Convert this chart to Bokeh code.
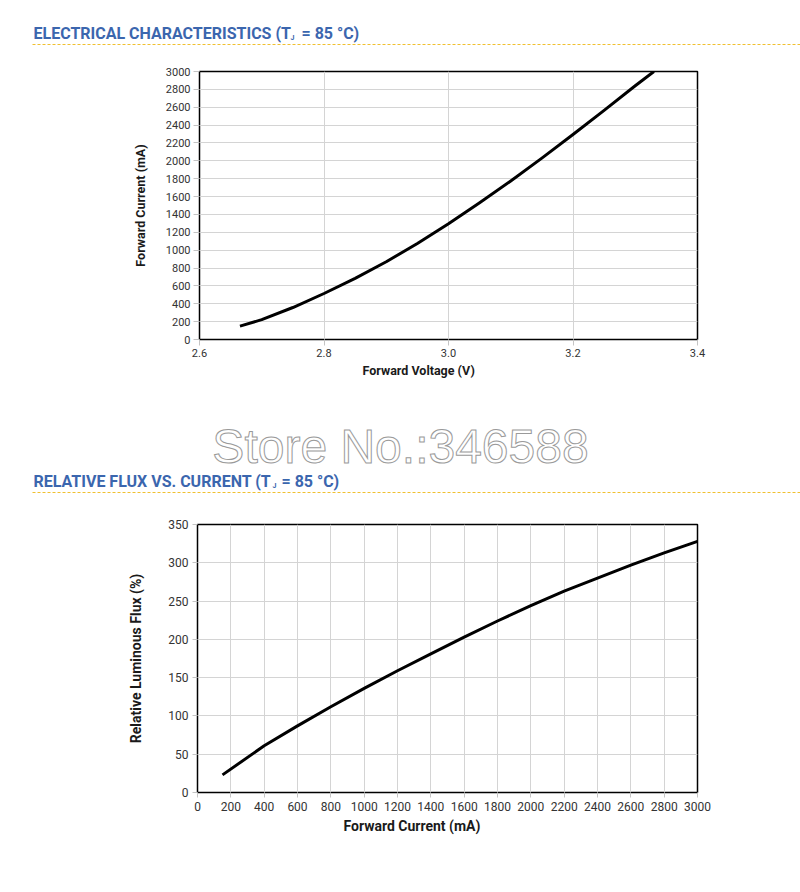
from bokeh.plotting import figure
from bokeh.layouts import column
from bokeh.models import Range1d, FixedTicker, NumeralTickFormatter, Title
from bokeh.core.properties import value
from bokeh.embed import file_html
from bokeh.resources import INLINE

FONT = "Roboto"
HEAD_BLUE = "#3b66ae"
RULE_YELLOW = "#f0c030"
GRID = "#d4d4d4"

# Forward voltage (V) vs forward current (mA) at Tj = 85 °C
fv_voltage = [2.665, 2.70, 2.75, 2.80, 2.85, 2.90, 2.95, 3.00, 3.05, 3.10, 3.15, 3.20, 3.25, 3.30, 3.33]
fv_current = [150, 222, 358, 515, 685, 870, 1075, 1295, 1530, 1775, 2030, 2295, 2565, 2840, 3000]
fv_xticks = [2.6, 2.8, 3.0, 3.2, 3.4]
fv_yticks = list(range(0, 3001, 200))

# Relative luminous flux (%) vs forward current (mA) at Tj = 85 °C
flux_current = [150, 400, 600, 800, 1000, 1200, 1400, 1600, 1800, 2000, 2200, 2400, 2600, 2800, 3000]
flux_pct = [23, 61, 87, 112, 136, 159, 181, 203, 224, 244, 263, 280, 297, 313, 328]
flux_xticks = list(range(0, 3001, 200))
flux_yticks = list(range(0, 351, 50))

HEAD1 = ("ELECTRICAL CHARACTERISTICS (T", "J", "= 85 °C)")
HEAD2 = ("RELATIVE FLUX VS. CURRENT (T", "J", "= 85 °C)")
WATERMARK = "Store No.:346588"


def strip(height):
    """A blank band in page pixel coordinates (y grows downwards)."""
    p = figure(width=800, height=height, x_range=Range1d(0, 800), y_range=Range1d(height, 0),
               output_backend="svg", toolbar_location=None, min_border=0,
               min_border_left=0, min_border_right=0, min_border_top=0, min_border_bottom=0,
               x_axis_location=None, y_axis_location=None)
    p.grid.visible = False
    p.outline_line_color = None
    p.background_fill_color = "white"
    p.border_fill_color = "white"
    return p


def heading(p, parts, y_text, y_sub, y_rule, x_sub, x_tail):
    main, sub, tail = parts
    common = dict(text_font=value(FONT), text_font_style="bold", text_color=HEAD_BLUE,
                  text_baseline="alphabetic", text_align="left")
    p.text(x=[33], y=[y_text], text=[main], text_font_size="16px", **common)
    p.text(x=[x_sub], y=[y_sub], text=[sub], text_font_size="7px", **common)
    p.text(x=[x_tail], y=[y_text], text=[tail], text_font_size="16px", **common)
    p.line(x=[32, 800], y=[y_rule, y_rule], line_color=RULE_YELLOW, line_width=1.2, line_dash="3 2")


def chart(height, xr, yr, xticks, yticks, xlabel, ylabel, borders, tick_px, label_px,
          ylab_standoff, xlab_standoff, xlab_offset, tick_out, tick_standoff):
    left, right, top, bottom = borders
    p = figure(width=800, height=height, x_range=Range1d(*xr), y_range=Range1d(*yr),
               output_backend="svg", toolbar_location=None,
               min_border_left=left, min_border_right=right,
               min_border_top=top, min_border_bottom=bottom)
    p.xaxis.ticker = FixedTicker(ticks=xticks)
    p.yaxis.ticker = FixedTicker(ticks=yticks)
    p.yaxis.axis_label = ylabel
    for ax in (p.xaxis, p.yaxis):
        ax.axis_line_color = None
        ax.major_tick_line_color = "#c4c4c4"
        ax.major_tick_out = tick_out
        ax.major_tick_in = 0
        ax.minor_tick_line_color = None
        ax.major_label_text_font = FONT
        ax.major_label_text_font_size = tick_px
        ax.major_label_text_color = "#333333"
        ax.major_label_standoff = tick_standoff
        ax.axis_label_text_font = FONT
        ax.axis_label_text_font_style = "bold"
        ax.axis_label_text_font_size = label_px
        ax.axis_label_text_color = "#1a1a1a"
    p.yaxis.axis_label_standoff = ylab_standoff
    # x caption, placed left of the frame centre
    p.add_layout(Title(text=xlabel, align="left", offset=xlab_offset, standoff=xlab_standoff,
                       text_font=FONT, text_font_style="bold", text_font_size=label_px,
                       text_color="#1a1a1a"), "below")
    p.grid.grid_line_color = GRID
    p.grid.grid_line_width = 1
    p.outline_line_color = "black"
    p.outline_line_width = 1.5
    p.outline_line_alpha = 1
    p.background_fill_color = "white"
    p.border_fill_color = "white"
    return p


# Top heading
h1 = strip(58)
heading(h1, HEAD1, 33, 37, 44, 290, 301)

# Forward current vs forward voltage
c1 = chart(334, (2.6, 3.4), (0, 3000), fv_xticks, fv_yticks,
           "Forward Voltage (V)", "Forward Current (mA)",
           (199, 103, 13, 53), "11px", "12.5px", 15, 3, 163, 6, 3)
c1.xaxis.formatter = NumeralTickFormatter(format="0.0")
c1.line(fv_voltage, fv_current, line_color="black", line_width=3, line_join="round")

# Watermark and second heading
mid = strip(118)
mid.text(x=[400], y=[54], text=[WATERMARK], text_font=value("Liberation Sans"),
         text_font_size="48px", text_align="center", text_baseline="alphabetic",
         text_color="white", text_outline_color="#9a9a9a")
heading(mid, HEAD2, 88.5, 93, 100, 272, 281)

# Relative flux vs forward current
c2 = chart(382, (0, 3000), (0, 350), flux_xticks, flux_yticks,
           "Forward Current (mA)", "Relative Luminous Flux (%)",
           (197, 103, 14, 100), "12px", "14px", 21, 5, 146, 5, 4)
c2.line(flux_current, flux_pct, line_color="black", line_width=3, line_join="round")

# each band sits in its own container so the frames are laid out independently
page = column(column(h1), column(c1), column(mid), column(c2), spacing=0)
open("out.html", "w").write(file_html(page, INLINE))
